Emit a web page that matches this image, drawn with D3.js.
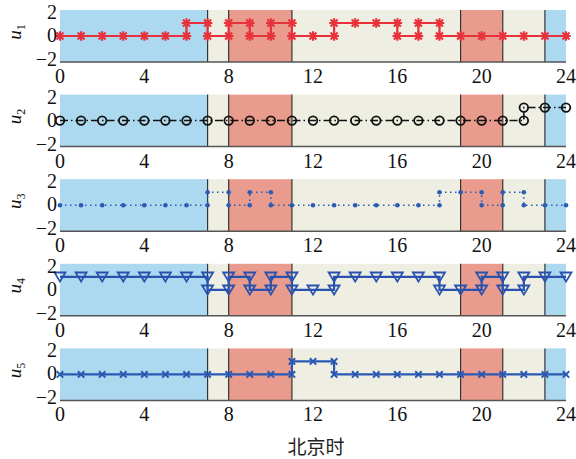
<!DOCTYPE html>
<html><head><meta charset="utf-8">
<script src="https://cdn.jsdelivr.net/npm/d3@7"></script>
<style>body{margin:0;background:#fff}</style></head>
<body>
<script>
// ---- data ----
const hours = d3.range(0, 25);
const u1 = [0,0,0,0,0,0,1,0,1,0,1,0,0,1,1,1,0,1,0,0,0,0,0,0,0];
const u2 = [0,0,0,0,0,0,0,0,0,0,0,0,0,0,0,0,0,0,0,0,0,0,1,1,1];
const u3 = [0,0,0,0,0,0,0,1,0,1,0,0,0,0,0,0,0,0,1,1,0,1,0,0,0];
const u4 = [1,1,1,1,1,1,1,0,1,0,1,0,0,1,1,1,1,1,0,0,1,0,1,1,1];
const u5 = [0,0,0,0,0,0,0,0,0,0,0,1,1,0,0,0,0,0,0,0,0,0,0,0,0];
const seriesNames = ["1","2","3","4","5"];
const xTicks = [0,4,8,12,16,20,24];
const yTicks = [-2,0,2];
const yTickLabels = ["\u22122","0","2"];
const bandStart = [0,7,8,11,19,21,23];
const bandEnd   = [7,8,11,19,21,23,24];
const bandKind  = ["valley","flat","peak","flat","peak","flat","valley"];
const dividers  = [7,8,11,19,21,23];
const xLabel = "北京时";

// ---- styles ----
const bandColor = {valley:"#acd9ef", flat:"#efeee2", peak:"#e99b8d"};
const series = [
  {v:u1, color:"#e8323b", width:2.2, dash:null, marker:"star"},
  {v:u2, color:"#111111", width:1.5, dash:"8,3,1.5,3", marker:"circle"},
  {v:u3, color:"#2a5bb5", width:1.6, dash:"1.5,3.5", marker:"dot"},
  {v:u4, color:"#2852ad", width:2.2, dash:null, marker:"tri"},
  {v:u5, color:"#2a58b3", width:2.2, dash:null, marker:"x"}
];

const W = 576, H = 459;
const svg = d3.select("body").append("svg").attr("width", W).attr("height", H)
  .style("font-family", "'Liberation Serif','Times New Roman',serif");

const x = d3.scaleLinear().domain([0,24]).range([60,566]);
const panelH = 52;

series.forEach((s, i) => {
  const top = 10 + i*84.6;
  const y = d3.scaleLinear().domain([-2,2]).range([top+panelH, top]);
  const g = svg.append("g");

  // bands
  g.selectAll("rect.band").data(bandStart.map((b,k)=>({s:b,e:bandEnd[k],kind:bandKind[k]})))
    .enter().append("rect")
    .attr("x", d=>x(d.s)).attr("y", top)
    .attr("width", d=>x(d.e)-x(d.s)).attr("height", panelH)
    .attr("fill", d=>bandColor[d.kind]);

  // dividers
  g.selectAll("line.div").data(dividers).enter().append("line")
    .attr("x1", d=>x(d)).attr("x2", d=>x(d))
    .attr("y1", top).attr("y2", top+panelH)
    .attr("stroke", "#333").attr("stroke-width", 1.2);

  // bottom axis line
  g.append("line").attr("x1", x(0)).attr("x2", x(24))
    .attr("y1", top+panelH).attr("y2", top+panelH)
    .attr("stroke", "#555").attr("stroke-width", 1.5);

  // stair line
  const pts = hours.map(h => [h, s.v[h]]);
  const line = d3.line().x(d=>x(d[0])).y(d=>y(d[1])).curve(d3.curveStepAfter);
  g.append("path").attr("d", line(pts)).attr("fill","none")
    .attr("stroke", s.color).attr("stroke-width", s.width)
    .attr("stroke-dasharray", s.dash);

  // marker vertices
  const verts = [];
  hours.forEach(h => {
    verts.push([h, s.v[h]]);
    if (h>0 && s.v[h-1] !== s.v[h]) verts.push([h, s.v[h-1]]);
  });
  const mg = g.append("g");
  verts.forEach(d => {
    const cx = x(d[0]), cy = y(d[1]);
    if (s.marker === "star") {
      const r = 4.8, r2 = 3.5;
      mg.append("path")
        .attr("d", `M${cx-r},${cy}L${cx+r},${cy}M${cx},${cy-r}L${cx},${cy+r}M${cx-r2},${cy-r2}L${cx+r2},${cy+r2}M${cx-r2},${cy+r2}L${cx+r2},${cy-r2}`)
        .attr("stroke", s.color).attr("stroke-width", 2.1).attr("fill","none");
    } else if (s.marker === "circle") {
      mg.append("circle").attr("cx",cx).attr("cy",cy).attr("r",4.3)
        .attr("fill","none").attr("stroke",s.color).attr("stroke-width",1.8);
    } else if (s.marker === "dot") {
      mg.append("circle").attr("cx",cx).attr("cy",cy).attr("r",2.3).attr("fill",s.color);
    } else if (s.marker === "tri") {
      mg.append("path").attr("d", `M${cx-5.5},${cy-4.3}L${cx+5.5},${cy-4.3}L${cx},${cy+4.8}Z`)
        .attr("fill","none").attr("stroke",s.color).attr("stroke-width",1.8);
    } else if (s.marker === "x") {
      const r = 3.2;
      mg.append("path").attr("d", `M${cx-r},${cy-r}L${cx+r},${cy+r}M${cx-r},${cy+r}L${cx+r},${cy-r}`)
        .attr("stroke", s.color).attr("stroke-width", 2);
    }
  });

  // x tick labels
  g.selectAll("text.xt").data(xTicks).enter().append("text")
    .attr("x", d=>x(d)).attr("y", top+panelH+21)
    .attr("text-anchor","middle").attr("font-size",20).attr("fill","#111")
    .text(d=>d);

  // y tick labels
  g.selectAll("text.yt").data(yTicks).enter().append("text")
    .attr("x", 57).attr("y", (d)=> y(d) + (d===2?9:(d===-2?4:6)))
    .attr("text-anchor","end").attr("font-size",20).attr("fill","#111")
    .text((d,k)=>yTickLabels[k]);

  // y label
  const yl = g.append("text")
    .attr("transform", `translate(21,${top+panelH/2-4}) rotate(-90)`)
    .attr("text-anchor","middle").attr("font-size",19).attr("fill","#111");
  yl.append("tspan").attr("font-style","italic").text("u");
  yl.append("tspan").attr("font-size",12).attr("dy",4).text(seriesNames[i]);
});

svg.append("text").attr("x", 316).attr("y", 454)
  .attr("text-anchor","middle").attr("font-size",19)
  .style("font-family","'Noto Sans CJK SC',sans-serif").attr("fill","#222")
  .text(xLabel);
</script>
</body></html>
